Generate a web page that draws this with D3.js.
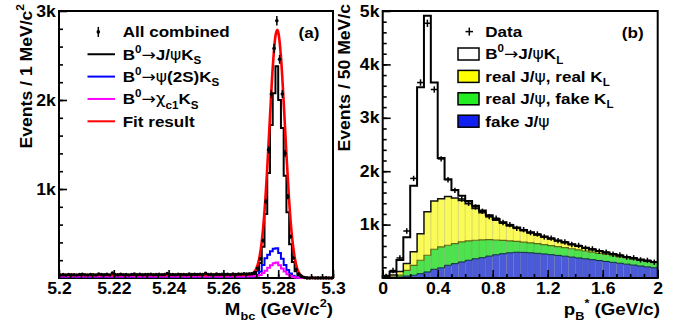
<!DOCTYPE html>
<html>
<head>
<meta charset="utf-8">
<script src="https://cdn.jsdelivr.net/npm/d3@7"></script>
<style>
body { margin: 0; background: #fff; }
svg { display: block; font-family: "Liberation Sans", Arial, sans-serif; font-weight: bold; }
</style>
</head>
<body>
<svg width="676" height="324"></svg>
<script>
// ---------- panel (a): Mbc, 1 MeV bins from 5.20 to 5.30 ----------
const mbcData = [
  34,38,32,40,35,37,33,39,42,36,
  34,40,37,33,45,39,36,41,34,56,
  38,35,42,37,40,34,39,43,37,41,
  35,40,38,42,36,39,41,37,40,51,
  39,38,36,42,38,40,37,43,39,41,
  38,42,40,54,39,41,37,43,40,42,
  39,42,37,44,40,45,42,48,44,46,
  49,62,110,215,420,857,1440,2067,2580,2891,
  2457,2067,1400,914,465,225,95,45,18,6,
  1,0,2,0,1,0,0,1,0,0]
const mbcJpsiKs = [
  25,28,23,29,26,27,24,29,31,26,
  25,29,27,24,32,28,26,30,25,40,
  28,25,31,27,29,25,28,31,27,30,
  26,29,28,31,26,29,30,27,29,37,
  29,28,26,31,28,29,27,32,29,30,
  28,31,29,39,29,30,27,32,29,31,
  29,31,27,33,30,33,31,35,33,34,
  36,44,82,168,350,720,1180,1720,2075,2378,
  2000,1685,1150,740,380,180,75,32,14,5,
  1,0,1,0,1,0,0,0,0,0]
const mbcPsi2sKs = [
  13,14,15,14,13,14,15,13,14,14,
  13,14,15,14,13,14,14,15,13,14,
  14,13,14,15,14,13,14,14,15,14,
  13,14,14,15,14,13,15,14,14,13,
  14,15,14,13,14,14,15,14,13,14,
  15,14,13,14,15,14,14,13,15,14,
  14,15,14,14,15,14,15,15,16,17,
  18,21,35,71,146,221,262,300,330,333,
  280,215,146,90,50,25,12,6,3,1,
  0,0,0,0,0,0,0,0,0,0]
const mbcChic1Ks = [
  18,19,18,17,18,19,18,18,17,18,
  19,18,18,17,18,19,18,18,17,18,
  18,19,18,17,18,18,19,18,17,18,
  18,17,18,19,18,18,17,18,19,18,
  18,18,17,18,19,18,18,17,18,18,
  19,18,18,17,18,19,18,18,17,18,
  18,19,18,18,17,18,19,18,18,19,
  20,22,26,34,55,82,114,142,166,174,
  144,106,72,43,24,12,6,3,1,0,
  0,0,0,0,0,0,0,0,0,0]
const fitMbc = [5.200,5.215,5.230,5.245,5.260,5.266,5.268,
  5.270,5.271,5.272,5.273,5.274,5.275,5.276,5.277,5.278,5.279,5.2797,
  5.280,5.281,5.282,5.283,5.284,5.285,5.286,5.287,5.288,5.289,5.290,5.292,5.300]
const fitVal = [33,34,34,35,35,35,36,
  42,60,105,208,409,748,1233,1812,2360,2719,2790,
  2766,2488,1977,1390,866,475,234,98,39,13,3,0,0]
const mbcTicks = [5.2, 5.22, 5.24, 5.26, 5.28, 5.3]
const mbcTickLabels = ["5.2", "5.22", "5.24", "5.26", "5.28", "5.3"]
const countTicksA = [1000, 2000, 3000]
const countLabelsA = ["1k", "2k", "3k"]

// ---------- panel (b): pB*, 50 MeV/c bins from 0 to 2 ----------
const pbData = [30,140,375,880,1865,3660,4770,3530,2230,1840,
  1640,1480,1400,1330,1250,1150,1120,1040,1000,930,
  905,850,825,770,748,700,675,628,610,560,
  545,500,485,445,430,390,378,340,330,295]
const fakeJpsi = [0,6,18,37,52,81,113,163,190,238,
  269,300,332,360,380,410,435,455,472,482,
  480,472,462,450,437,423,408,392,376,360,
  344,327,310,293,276,259,242,225,208,192]
const realJpsiFakeKl = [2,16,37,107,186,251,313,375,392,375,
  375,375,363,347,335,310,277,250,223,203,
  192,186,180,175,170,165,160,156,151,146,
  141,136,131,126,121,116,111,106,101,95]
const realJpsiRealKl = [6,33,65,126,252,499,814,902,903,912,
  856,775,695,593,505,425,368,320,280,245,
  213,187,163,143,125,109,94,80,68,57,
  47,39,32,26,21,17,14,12,11,11]
const jpsiKlSignal = [32,63,218,494,1236,2739,3670,2220,760,325,
  150,90,50,55,45,30,25,20,17,15,
  13,11,10,9,8,7,7,6,5,5,
  4,4,4,4,3,3,3,3,3,3]
const pbTicks = [0, 0.4, 0.8, 1.2, 1.6, 2]
const pbTickLabels = ["0", "0.4", "0.8", "1.2", "1.6", "2"]
const countTicksB = [1000, 2000, 3000, 4000, 5000]
const countLabelsB = ["1k", "2k", "3k", "4k", "5k"]

const SX = 1.1   // the original lettering is a bit wide
const svg = d3.select("svg")

// text with super/subscripts: parts = [[string, kind]]
function rich(g, x, y, parts, size, anchor, rot) {
  const t = g.append("text")
    .attr("transform", `translate(${x},${y})${rot ? " rotate(-90)" : ""} scale(${SX},1)`)
    .attr("font-size", size)
    .attr("text-anchor", anchor || "start")
  let shift = 0
  parts.forEach(([str, kind]) => {
    const target = kind === "sup" ? -0.45 * size : kind === "sub" ? 0.27 * size : 0
    const ts = t.append("tspan").attr("dy", target - shift).text(str)
    shift = target
    if (kind === "sup" || kind === "sub") ts.attr("font-size", size * 0.68)
    if (kind === "thin") ts.attr("font-weight", "normal").attr("font-family", "DejaVu Sans")
  })
  return t
}

function axes(g, x, y, xt, xl, xMinor, yt, yl, yMinor) {
  const [x0] = x.range(), [y0] = y.range()
  const gxm = g.append("g").attr("transform", `translate(0,${y0})`)
    .call(d3.axisBottom(x).tickValues(xMinor).tickSizeInner(-4).tickSizeOuter(0).tickFormat(""))
  const gx = g.append("g").attr("transform", `translate(0,${y0})`)
    .call(d3.axisBottom(x).tickValues(xt).tickSizeInner(-8).tickSizeOuter(0).tickPadding(5)
      .tickFormat((d, i) => xl[i]))
  const gym = g.append("g").attr("transform", `translate(${x0},0)`)
    .call(d3.axisLeft(y).tickValues(yMinor).tickSizeInner(-4).tickSizeOuter(0).tickFormat(""))
  const gy = g.append("g").attr("transform", `translate(${x0},0)`)
    .call(d3.axisLeft(y).tickValues(yt).tickSizeInner(-8).tickSizeOuter(0).tickPadding(3)
      .tickFormat((d, i) => yl[i]))
  ;[gxm, gx, gym, gy].forEach(a => {
    a.select(".domain").remove()
    a.selectAll("line").attr("stroke", "#000").attr("stroke-width", 1.6)
    a.selectAll("text").attr("font-size", 16).attr("font-family", null).attr("fill", "#000")
      .attr("transform", `scale(${SX},1)`)
  })
}

function frame(g, x, y) {
  const [x0, x1] = x.range(), [y0, y1] = y.range()
  g.append("rect").attr("x", x0).attr("y", y1).attr("width", x1 - x0).attr("height", y0 - y1)
    .attr("fill", "none").attr("stroke", "#000").attr("stroke-width", 2)
}

// ================= panel (a) =================
const gA = svg.append("g")
const xA = d3.scaleLinear().domain([5.2, 5.3]).range([59, 333])
const yA = d3.scaleLinear().domain([0, 3000]).range([278, 11])
const mbcEdges = d3.range(100).map(i => 5.2 + i * 0.001)

frame(gA, xA, yA)

const stepA = d3.line().curve(d3.curveStepAfter).x(d => xA(d[0])).y(d => yA(d[1]))
function histA(vals, color) {
  const pts = mbcEdges.map((e, i) => [e, vals[i]])
  pts.push([5.3, vals[vals.length - 1]])
  gA.append("path").attr("d", stepA(pts)).attr("fill", "none")
    .attr("stroke", color).attr("stroke-width", 2)
}
histA(mbcJpsiKs, "#000")
histA(mbcPsi2sKs, "#0000ff")
histA(mbcChic1Ks, "#ff00ff")

const fitLine = d3.line().curve(d3.curveMonotoneX).x(d => xA(d[0])).y(d => yA(d[1]))
gA.append("path").attr("d", fitLine(fitMbc.map((m, i) => [m, fitVal[i]])))
  .attr("fill", "none").attr("stroke", "#ff0000").attr("stroke-width", 2.6)

const ptsA = gA.append("g")
mbcData.forEach((v, i) => {
  const cx = xA(mbcEdges[i] + 0.0005)
  const e = Math.sqrt(v)
  ptsA.append("line").attr("x1", cx).attr("x2", cx)
    .attr("y1", yA(v - e)).attr("y2", yA(v + e)).attr("stroke", "#000").attr("stroke-width", 1.5)
  ptsA.append("circle").attr("cx", cx).attr("cy", yA(v)).attr("r", 1.8).attr("fill", "#000")
})

axes(gA, xA, yA, mbcTicks, mbcTickLabels, d3.range(5.204, 5.3, 0.004),
  countTicksA, countLabelsA, d3.range(200, 3000, 200))

// legend (a)
const legA = [
  { parts: [["All combined"]], type: "data" },
  { parts: [["B"], ["0", "sup"], ["→", "thin"], ["J/"], ["ψ", "thin"], ["K"], ["S", "sub"]], color: "#000" },
  { parts: [["B"], ["0", "sup"], ["→", "thin"], ["ψ", "thin"], ["(2S)K"], ["S", "sub"]], color: "#0000ff" },
  { parts: [["B"], ["0", "sup"], ["→", "thin"], ["χ", "thin"], ["c1", "sub"], ["K"], ["S", "sub"]], color: "#ff00ff" },
  { parts: [["Fit result"]], color: "#ff0000" }
]
legA.forEach((d, i) => {
  const base = 37.3 + i * 22.35
  const cy = base - 5.4
  if (d.type === "data") {
    gA.append("line").attr("x1", 98.3).attr("x2", 98.3).attr("y1", cy - 5).attr("y2", cy + 5)
      .attr("stroke", "#000").attr("stroke-width", 1.5)
    gA.append("circle").attr("cx", 98.3).attr("cy", cy).attr("r", 1.8).attr("fill", "#000")
  } else {
    gA.append("line").attr("x1", 87.5).attr("x2", 115).attr("y1", cy).attr("y2", cy)
      .attr("stroke", d.color).attr("stroke-width", 2)
  }
  rich(gA, 122.7, base, d.parts, 15.5)
})
rich(gA, 309, 37.5, [["(a)"]], 15.5, "middle")

rich(gA, 31.5, 4, [["Events / 1 MeV/c"], ["2", "sup"]], 16, "end", true)
rich(gA, 333, 315, [["M"], ["bc", "sub"], [" (GeV/c"], ["2", "sup"], [")"]], 17, "end")

// ================= panel (b) =================
const gB = svg.append("g")
const xB = d3.scaleLinear().domain([0, 2]).range([382.7, 657.7])
const yB = d3.scaleLinear().domain([0, 5000]).range([278, 11])
const pbEdges = d3.range(40).map(i => i * 0.05)
const binW = xB(0.05) - xB(0)

const pbTable = pbEdges.map((p, i) => ({
  p: p,
  fake: fakeJpsi[i],
  realFake: realJpsiFakeKl[i],
  realReal: realJpsiRealKl[i],
  signal: jpsiKlSignal[i]
}))
const layersB = [
  { key: "fake", fill: "#4a5ad8", line: "#0c2c3c", lw: 1 },
  { key: "realFake", fill: "#4ee24e", line: "#5c6a10", lw: 1.2 },
  { key: "realReal", fill: "#fafa58", line: "#111", lw: 1.5 },
  { key: "signal", fill: "#fff", line: "#000", lw: 2 }
]
const series = d3.stack().keys(layersB.map(l => l.key))(pbTable)

const stepB = d3.line().curve(d3.curveStepAfter).x(d => xB(d[0])).y(d => yB(d[1]))
series.forEach((s, k) => {
  const L = layersB[k]
  gB.append("g").selectAll("rect").data(s).join("rect")
    .attr("x", (d, i) => xB(pbEdges[i]))
    .attr("width", binW)
    .attr("y", d => yB(d[1]))
    .attr("height", d => yB(d[0]) - yB(d[1]))
    .attr("fill", L.fill)
  if (L.key !== "signal") {
    gB.append("g").selectAll("line").data(s).join("line")
      .attr("x1", (d, i) => xB(pbEdges[i])).attr("x2", (d, i) => xB(pbEdges[i]))
      .attr("y1", d => yB(d[1])).attr("y2", d => yB(d[0]))
      .attr("stroke", "rgba(90,90,60,0.25)").attr("stroke-width", 0.8)
  }
})
series.forEach((s, k) => {
  const L = layersB[k]
  const pts = s.map((d, i) => [pbEdges[i], d[1]])
  pts.push([2, s[s.length - 1][1]])
  pts.unshift([0, 0])
  gB.append("path").attr("d", stepB(pts)).attr("fill", "none")
    .attr("stroke", L.line).attr("stroke-width", L.lw)
})

frame(gB, xB, yB)

const ptsB = gB.append("g")
pbData.forEach((v, i) => {
  const cx = xB(pbEdges[i] + 0.025)
  const e = Math.max(Math.sqrt(v), 50)
  ptsB.append("line").attr("x1", cx).attr("x2", cx).attr("y1", yB(v - e)).attr("y2", yB(v + e))
    .attr("stroke", "#000").attr("stroke-width", 1.5)
  ptsB.append("line").attr("x1", cx - binW / 2).attr("x2", cx + binW / 2).attr("y1", yB(v)).attr("y2", yB(v))
    .attr("stroke", "#000").attr("stroke-width", 1.5)
})

axes(gB, xB, yB, pbTicks, pbTickLabels, d3.range(0.1, 2, 0.1),
  countTicksB, countLabelsB, d3.range(200, 5000, 200))

// legend (b)
const legB = [
  { parts: [["Data"]], type: "data" },
  { parts: [["B"], ["0", "sup"], ["→", "thin"], ["J/"], ["ψ", "thin"], ["K"], ["L", "sub"]], fill: "#fff" },
  { parts: [["real J/"], ["ψ", "thin"], [", real K"], ["L", "sub"]], fill: "#ffff00" },
  { parts: [["real J/"], ["ψ", "thin"], [", fake K"], ["L", "sub"]], fill: "#22ee22" },
  { parts: [["fake J/"], ["ψ", "thin"]], fill: "#1020f0" }
]
legB.forEach((d, i) => {
  const base = 37 + i * 22.4
  const cy = base - 5.4
  if (d.type === "data") {
    gB.append("line").attr("x1", 469.3).attr("x2", 469.3).attr("y1", cy - 4).attr("y2", cy + 4)
      .attr("stroke", "#000").attr("stroke-width", 1.5)
    gB.append("line").attr("x1", 465.5).attr("x2", 473).attr("y1", cy).attr("y2", cy)
      .attr("stroke", "#000").attr("stroke-width", 1.5)
  } else {
    gB.append("rect").attr("x", 458).attr("y", cy - 6).attr("width", 21).attr("height", 12)
      .attr("fill", d.fill).attr("stroke", "#000").attr("stroke-width", 1.5)
  }
  rich(gB, 485.3, base, d.parts, 15.5)
})
rich(gB, 632.7, 37.5, [["(b)"]], 15.5, "middle")

rich(gB, 349.5, 4, [["Events / 50 MeV/c"]], 16, "end", true)
rich(gB, 660, 315, [["p"], ["B", "sub"], ["*", "sup"], [" (GeV/c)"]], 17, "end")
</script>
</body>
</html>
